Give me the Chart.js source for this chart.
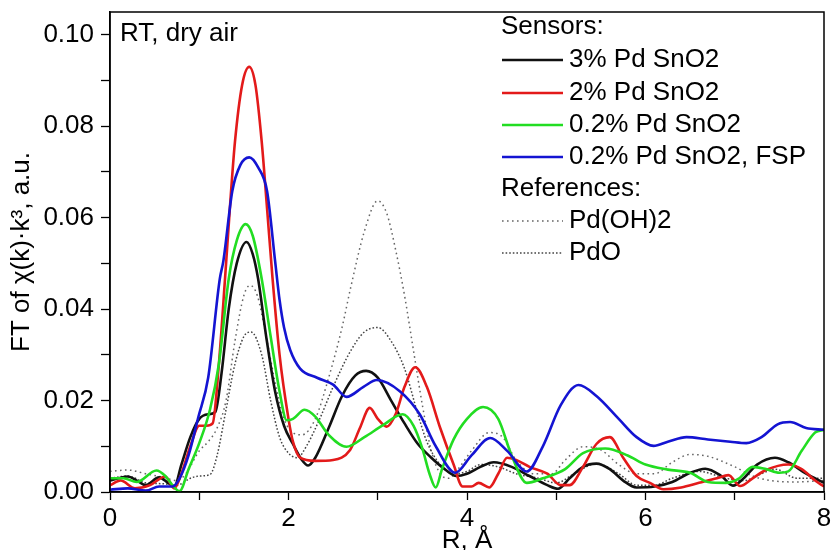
<!DOCTYPE html>
<html>
<head>
<meta charset="utf-8">
<script src="https://cdn.jsdelivr.net/npm/chart.js@4.4.1/dist/chart.umd.min.js"></script>
<style>
html,body{margin:0;padding:0;background:#fff;}
canvas{display:block;}
</style>
</head>
<body>
<canvas id="c" width="831" height="550"></canvas>
<script>
// ---- data (R in Å, FT magnitude in a.u.) ----
const pd3 = [[0,0.0025],[0.1,0.003],[0.2,0.0034],[0.3,0.0025],[0.4,0.0015],[0.55,0.0032],[0.65,0.002],[0.72,0.0012],[0.8,0.006],[0.9,0.012],[1.0,0.016],[1.1,0.017],[1.18,0.0175],[1.25,0.026],[1.33,0.04],[1.42,0.05],[1.53,0.0547],[1.6,0.052],[1.66,0.0466],[1.75,0.034],[1.85,0.022],[1.95,0.0145],[2.05,0.0105],[2.15,0.007],[2.22,0.0058],[2.3,0.0075],[2.45,0.014],[2.6,0.021],[2.75,0.0255],[2.87,0.0265],[3.0,0.025],[3.15,0.02],[3.3,0.015],[3.45,0.0105],[3.6,0.0075],[3.75,0.005],[3.88,0.0035],[4.0,0.004],[4.15,0.0055],[4.3,0.0065],[4.5,0.0055],[4.7,0.0035],[4.9,0.0015],[5.02,0.0007],[5.15,0.003],[5.3,0.0055],[5.45,0.0062],[5.6,0.005],[5.75,0.0025],[5.9,0.001],[6.1,0.0012],[6.3,0.0022],[6.5,0.0042],[6.67,0.0051],[6.85,0.0035],[6.98,0.0014],[7.1,0.003],[7.25,0.006],[7.45,0.0075],[7.6,0.0065],[7.8,0.004],[8.0,0.002]];
const pd2 = [[0,0.0015],[0.12,0.0025],[0.28,0.0008],[0.45,0.0015],[0.62,0.0034],[0.72,0.0008],[0.8,0.004],[0.9,0.01],[1.0,0.0145],[1.08,0.0145],[1.15,0.015],[1.22,0.028],[1.29,0.047],[1.35,0.064],[1.4,0.0766],[1.48,0.089],[1.56,0.093],[1.63,0.089],[1.7,0.0766],[1.76,0.062],[1.82,0.047],[1.9,0.03],[2.0,0.016],[2.05,0.011],[2.13,0.0075],[2.3,0.0068],[2.5,0.007],[2.69,0.0092],[2.8,0.014],[2.91,0.0184],[3.0,0.016],[3.1,0.0143],[3.2,0.017],[3.3,0.023],[3.42,0.0273],[3.55,0.023],[3.7,0.014],[3.85,0.006],[3.95,0.0012],[4.05,0.0012],[4.13,0.002],[4.25,0.001],[4.35,0.004],[4.45,0.0075],[4.55,0.007],[4.7,0.0055],[4.9,0.004],[5.05,0.0015],[5.15,0.0015],[5.3,0.0055],[5.45,0.0105],[5.6,0.012],[5.75,0.0075],[5.9,0.0035],[6.05,0.002],[6.2,0.0006],[6.4,0.001],[6.6,0.002],[6.8,0.003],[6.93,0.0037],[7.06,0.0013],[7.2,0.003],[7.35,0.0048],[7.6,0.006],[7.75,0.005],[7.9,0.0025],[8.0,0.0012]];
const pd02 = [[0,0.003],[0.15,0.003],[0.3,0.0022],[0.52,0.0047],[0.62,0.0035],[0.72,0.001],[0.78,0.0002],[0.88,0.005],[1.0,0.0107],[1.12,0.018],[1.22,0.028],[1.33,0.0466],[1.42,0.055],[1.52,0.0586],[1.6,0.056],[1.7,0.0466],[1.8,0.034],[1.9,0.022],[1.98,0.0157],[2.05,0.016],[2.18,0.018],[2.3,0.0165],[2.45,0.0125],[2.65,0.0099],[2.85,0.012],[3.05,0.0145],[3.28,0.017],[3.4,0.0145],[3.5,0.0095],[3.58,0.004],[3.65,0.001],[3.72,0.005],[3.85,0.0115],[4.0,0.016],[4.18,0.0186],[4.35,0.016],[4.5,0.008],[4.67,0.002],[4.85,0.003],[5.1,0.005],[5.3,0.0085],[5.55,0.0095],[5.8,0.008],[6.0,0.006],[6.25,0.0049],[6.5,0.0042],[6.7,0.0022],[6.9,0.002],[7.05,0.003],[7.2,0.0055],[7.35,0.005],[7.5,0.0042],[7.6,0.0045],[7.75,0.009],[7.9,0.013],[8.0,0.0136]];
const pd02fsp = [[0,0.0005],[0.2,0.0008],[0.4,0.0003],[0.55,0.0012],[0.7,0.0012],[0.78,0.003],[0.88,0.008],[0.99,0.0164],[1.1,0.025],[1.23,0.0466],[1.27,0.0505],[1.37,0.0658],[1.46,0.0715],[1.56,0.0732],[1.66,0.071],[1.76,0.0658],[1.85,0.0505],[1.9,0.042],[1.95,0.036],[2.02,0.031],[2.13,0.027],[2.32,0.025],[2.5,0.0235],[2.65,0.0208],[2.84,0.023],[2.99,0.0245],[3.25,0.022],[3.47,0.017],[3.65,0.01],[3.87,0.0042],[4.05,0.008],[4.26,0.0118],[4.45,0.009],[4.67,0.0045],[4.85,0.01],[5.05,0.019],[5.25,0.0234],[5.45,0.021],[5.7,0.016],[5.9,0.012],[6.09,0.0101],[6.25,0.011],[6.46,0.012],[6.7,0.0115],[6.95,0.011],[7.13,0.0107],[7.3,0.012],[7.48,0.0148],[7.62,0.0153],[7.8,0.014],[8.0,0.0136]];
const pdOH2 = [[0,0.0045],[0.2,0.0048],[0.4,0.004],[0.6,0.0032],[0.75,0.0025],[0.85,0.004],[1.0,0.009],[1.1,0.011],[1.2,0.014],[1.3,0.02],[1.4,0.033],[1.5,0.043],[1.57,0.0452],[1.65,0.043],[1.75,0.034],[1.85,0.024],[1.95,0.016],[2.05,0.013],[2.15,0.0125],[2.3,0.016],[2.45,0.025],[2.6,0.036],[2.7,0.045],[2.85,0.057],[3.0,0.0637],[3.1,0.061],[3.2,0.053],[3.3,0.043],[3.4,0.031],[3.5,0.019],[3.6,0.009],[3.7,0.004],[3.8,0.003],[3.9,0.005],[4.05,0.009],[4.25,0.013],[4.4,0.012],[4.55,0.007],[4.75,0.004],[4.95,0.004],[5.1,0.007],[5.3,0.0099],[5.5,0.0092],[5.7,0.006],[5.9,0.004],[6.1,0.004],[6.3,0.0065],[6.5,0.0082],[6.7,0.0078],[7.0,0.0055],[7.2,0.0035],[7.4,0.0025],[7.7,0.0022],[8.0,0.0025]];
const pdO = [[0,0.003],[0.2,0.0035],[0.4,0.002],[0.6,0.0018],[0.75,0.0015],[0.9,0.003],[1.0,0.0035],[1.12,0.0038],[1.2,0.008],[1.3,0.018],[1.4,0.028],[1.5,0.034],[1.58,0.035],[1.7,0.03],[1.8,0.02],[1.9,0.012],[2.0,0.0085],[2.1,0.0075],[2.2,0.01],[2.35,0.016],[2.5,0.023],[2.7,0.031],[2.85,0.035],[3.0,0.036],[3.15,0.033],[3.3,0.027],[3.45,0.017],[3.55,0.011],[3.7,0.006],[3.85,0.004],[4.0,0.0045],[4.15,0.006],[4.35,0.0055],[4.55,0.004],[4.8,0.003],[5.0,0.002],[5.2,0.004],[5.45,0.0062],[5.7,0.004],[5.9,0.0015],[6.1,0.0015],[6.3,0.003],[6.6,0.0045],[6.9,0.003],[7.1,0.0025],[7.3,0.004],[7.45,0.005],[7.7,0.003],[8.0,0.003]];

const seriesNames = ['3% Pd SnO2','2% Pd SnO2','0.2% Pd SnO2','0.2% Pd SnO2, FSP','Pd(OH)2','PdO'];
const xTickValues = [0,1,2,3,4,5,6,7,8];
const xTickLabels = ['0','','2','','4','','6','','8'];
const yTickValues = [0,0.01,0.02,0.03,0.04,0.05,0.06,0.07,0.08,0.09,0.10];
const yTickLabels = ['0.00','','0.02','','0.04','','0.06','','0.08','','0.10'];
const annotationText = 'RT, dry air';
const legendHeaders = ['Sensors:','References:'];

const FONT = '"Liberation Sans", Arial, sans-serif';
const FS = 26;
const toXY = arr => arr.map(p => ({x:p[0], y:p[1]}));

const solid = (label, data, color) => ({label, data: toXY(data), borderColor: color, backgroundColor: color, borderWidth: 2.6, pointRadius: 0, fill: false, cubicInterpolationMode: 'monotone'});
const dotted = (label, data, color, dash) => ({label, data: toXY(data), borderColor: color, backgroundColor: color, borderWidth: 1.5, borderDash: dash, pointRadius: 0, fill: false, cubicInterpolationMode: 'monotone'});

const datasets = [
  solid(seriesNames[3], pd02fsp, '#1414d2'),
  solid(seriesNames[2], pd02, '#22dd22'),
  solid(seriesNames[1], pd2, '#e31a1a'),
  solid(seriesNames[0], pd3, '#111111'),
  dotted(seriesNames[5], pdO, '#444444', [1.6, 2.0]),
  dotted(seriesNames[4], pdOH2, '#666666', [1.6, 3.4])
];

const framePlugin = {
  id: 'frame',
  afterDraw(chart) {
    const {ctx, chartArea: a} = chart;
    ctx.save();
    ctx.strokeStyle = '#000';
    ctx.lineWidth = 1.5;
    ctx.strokeRect(a.left, a.top, a.right - a.left, a.bottom - a.top);
    ctx.fillStyle = '#000';
    ctx.font = FS + 'px ' + FONT;
    ctx.textBaseline = 'middle';
    ctx.textAlign = 'left';
    ctx.fillText(annotationText, a.left + 10, 34);
    const byLabel = {};
    chart.data.datasets.forEach(d => byLabel[d.label] = d);
    const rows = [
      {head: legendHeaders[0], y: 27},
      {name: seriesNames[0], y: 60},
      {name: seriesNames[1], y: 93},
      {name: seriesNames[2], y: 125},
      {name: seriesNames[3], y: 157},
      {head: legendHeaders[1], y: 189},
      {name: seriesNames[4], y: 221},
      {name: seriesNames[5], y: 253}
    ];
    rows.forEach(r => {
      if (r.head) { ctx.fillText(r.head, 501, r.y); return; }
      const d = byLabel[r.name];
      ctx.save();
      ctx.strokeStyle = d.borderColor;
      ctx.lineWidth = d.borderWidth;
      ctx.setLineDash(d.borderDash || []);
      ctx.beginPath();
      ctx.moveTo(502, r.y); ctx.lineTo(563, r.y);
      ctx.stroke();
      ctx.restore();
      ctx.fillText(r.name, 569, r.y);
    });
    ctx.restore();
  }
};

new Chart(document.getElementById('c'), {
  type: 'line',
  data: { datasets },
  options: {
    responsive: false,
    animation: false,
    layout: { padding: { top: 12, right: 7, left: 0, bottom: 0 } },
    plugins: { legend: { display: false }, tooltip: { enabled: false } },
    scales: {
      x: {
        type: 'linear', min: 0, max: 8,
        afterBuildTicks: s => { s.ticks = xTickValues.map(v => ({value: v})); },
        afterFit: s => { s.height = 58; s.paddingLeft = 0; s.paddingRight = 0; },
        ticks: {
          autoSkip: false, maxRotation: 0, padding: 3,
          color: '#000', font: { family: FONT, size: FS },
          callback: (v, i) => xTickLabels[i]
        },
        grid: { drawOnChartArea: false, drawTicks: true, tickLength: 8, color: '#000', tickWidth: 1.3 },
        border: { display: true, color: '#000', width: 1.5 },
        title: { display: true, text: 'R, Å', color: '#000', font: { family: FONT, size: FS, lineHeight: 1 }, padding: { top: 0, bottom: -4 } }
      },
      y: {
        type: 'linear', min: 0, max: 0.105,
        afterBuildTicks: s => { s.ticks = yTickValues.map(v => ({value: v})); },
        afterFit: s => { s.width = 110; s.paddingTop = 0; s.paddingBottom = 0; },
        ticks: {
          autoSkip: false, padding: 7,
          color: '#000', font: { family: FONT, size: FS },
          callback: (v, i) => yTickLabels[i]
        },
        grid: { drawOnChartArea: false, drawTicks: true, tickLength: 9, color: '#000', tickWidth: 1.3 },
        border: { display: true, color: '#000', width: 1.5 },
        title: { display: true, text: 'FT of χ(k)·k³, a.u.', color: '#000', font: { family: FONT, size: FS, lineHeight: 1.2 }, padding: { top: 6, bottom: 0 } }
      }
    }
  },
  plugins: [framePlugin]
});
</script>
</body>
</html>
